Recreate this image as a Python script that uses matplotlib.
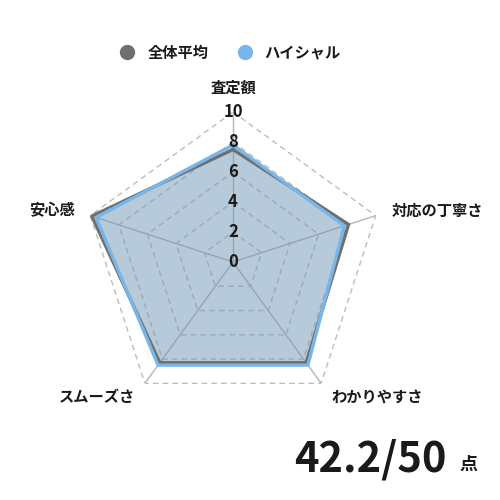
import numpy as np
import matplotlib
matplotlib.use("Agg")
import matplotlib.pyplot as plt
from matplotlib.lines import Line2D

plt.rcParams['font.family'] = ['Noto Sans CJK JP', 'DejaVu Sans']

categories = ["査定額", "対応の丁寧さ", "わかりやすさ", "スムーズさ", "安心感"]
avg_values = [7.5, 8.1, 8.3, 8.3, 9.9]
brand_values = [7.8, 7.8, 8.5, 8.5, 9.6]
series_names = ["全体平均", "ハイシャル"]
ticks = [0, 2, 4, 6, 8, 10]
score_text = "42.2/50"
unit_text = "点"

gray = "#6f6f6f"
blue = "#78b6ea"
txt = "#1a1a1a"

fig = plt.figure(figsize=(5, 5), dpi=100)
ax = fig.add_axes([0.166, 0.176, 0.6, 0.6], projection="polar")
ax.set_theta_zero_location("N")
ax.set_theta_direction(-1)
ax.set_ylim(0, 10)
ax.set_axis_off()

n = len(categories)
angles = np.arange(n) * 2 * np.pi / n
closed = np.concatenate([angles, angles[:1]])

# grid
for t in ticks[1:]:
    ax.plot(closed, [t] * (n + 1), color="#bdbdbd", lw=1.0, ls=(0, (4, 3)), zorder=1)
for a in angles:
    ax.plot([a, a], [0, 10], color="#b5b5b5", lw=1.0, zorder=1)

def closed_vals(v):
    return list(v) + [v[0]]

ax.fill(closed, closed_vals(avg_values), color=gray, alpha=0.3, lw=0, zorder=2)
ax.fill(closed, closed_vals(brand_values), color=blue, alpha=0.3, lw=0, zorder=2)
ax.plot(closed, closed_vals(avg_values), color=gray, lw=2.4, zorder=3, solid_joinstyle="miter")
ax.plot(closed, closed_vals(brand_values), color=blue, lw=2.4, zorder=4, solid_joinstyle="miter")

for t in ticks:
    ax.text(0, t, str(t), ha="center", va="center", fontsize=12, fontweight="bold",
            color=txt, zorder=5)

label_r = [11.6, 11.1, 11.1, 11.1, 11.1]
aligns = [("center", "center"), ("left", "center"), ("left", "center"),
          ("right", "center"), ("right", "center")]
for a, lab, r, (ha, va) in zip(angles, categories, label_r, aligns):
    ax.text(a, r, lab, ha=ha, va=va, fontsize=11, fontweight="bold", color=txt,
            clip_on=False)

handles = [Line2D([], [], marker="o", ls="", color=gray, markersize=10),
           Line2D([], [], marker="o", ls="", color=blue, markersize=10)]
leg = fig.legend(handles, series_names, loc="center", bbox_to_anchor=(0.453, 0.895),
                 ncol=2, frameon=False, handletextpad=0.3, columnspacing=1.4,
                 prop={"weight": "bold", "size": 11})
for t in leg.get_texts():
    t.set_color(txt)

fig.text(0.893, 0.056, score_text, ha="right", va="baseline", fontsize=30,
         fontweight="bold", color=txt)
fig.text(0.955, 0.06, unit_text, ha="right", va="baseline", fontsize=13,
         fontweight="bold", color=txt)

fig.savefig("out.png", dpi=100, facecolor="white")
